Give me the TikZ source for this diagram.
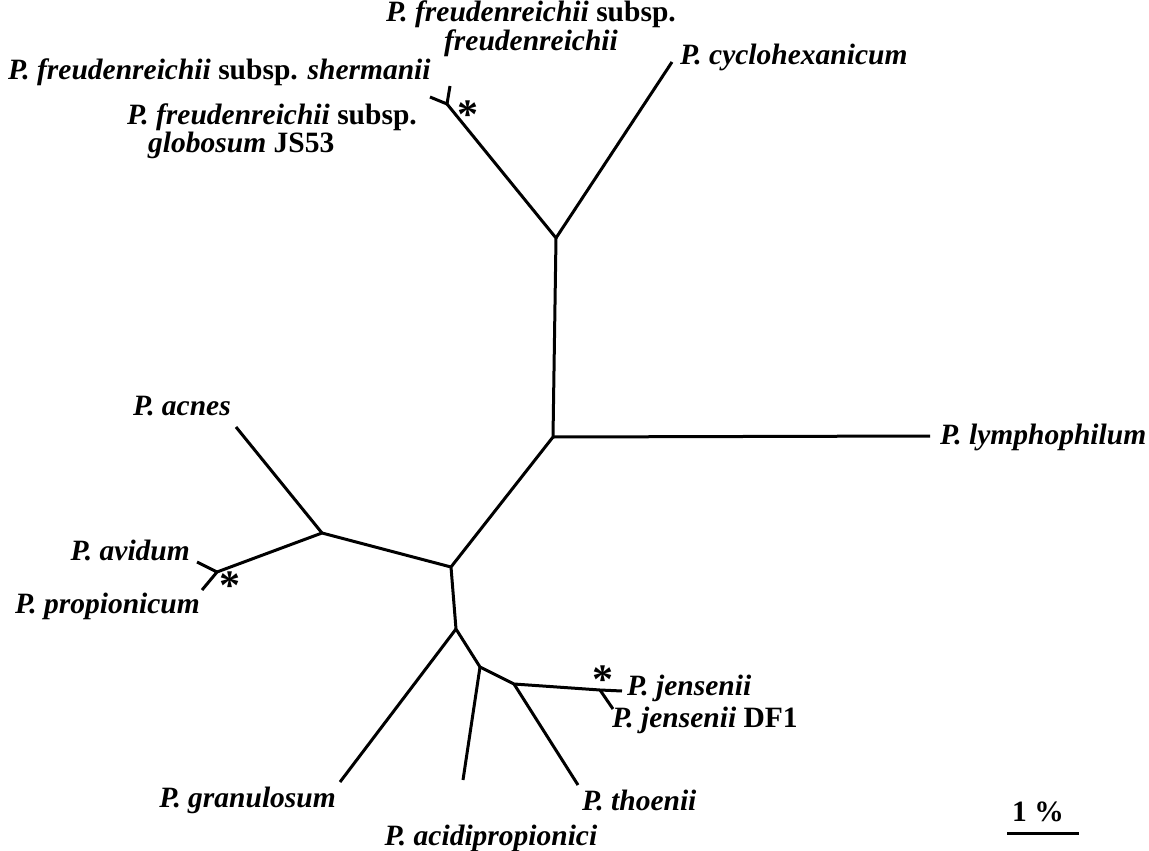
\documentclass[tikz,border=0pt]{standalone}
\usepackage{fontspec}
\setmainfont{Liberation Serif}
\begin{document}
\begin{tikzpicture}[x=1pt,y=-1pt,
  br/.style={line width=3pt},
  lab/.style={inner sep=0pt, font=\bfseries\fontsize{29.5}{26}\selectfont},
  starlab/.style={inner sep=0pt, font=\bfseries\fontsize{42}{42}\selectfont}]
\useasboundingbox (0,0) rectangle (1149,851);
% internal nodes
\coordinate (A) at (556,238);
\coordinate (B) at (553,437);
\coordinate (C) at (451,567);
\coordinate (D) at (322,533);
\coordinate (E) at (217,572);
\coordinate (F) at (456,629);
\coordinate (G) at (480,667);
\coordinate (H) at (514,684);
\coordinate (J) at (600,690);
\coordinate (K) at (447,104);
% leaves
\coordinate (fs) at (430,97);
\coordinate (ff) at (450,86);
\coordinate (cy) at (672,62);
\coordinate (ly) at (930,436);
\coordinate (ac) at (236,427);
\coordinate (av) at (197,562);
\coordinate (pr) at (202,590);
\coordinate (gr) at (340,782);
\coordinate (aci) at (463,780);
\coordinate (th) at (578,785);
\coordinate (je) at (622,691);
\coordinate (df) at (613,709);
% branches
\draw[br] (K) -- (A) -- (B) -- (C) -- (F) -- (G) -- (H) -- (J) -- (je);
\draw[br] (fs) -- (K) -- (ff);
\draw[br] (A) -- (cy);
\draw[br] (B) -- (ly);
\draw[br] (C) -- (D) -- (E);
\draw[br] (D) -- (ac);
\draw[br] (av) -- (E) -- (pr);
\draw[br] (F) -- (gr);
\draw[br] (G) -- (aci);
\draw[br] (H) -- (th);
\draw[br] (J) -- (df);
% labels
\node[lab, anchor=north, align=center] (lff) at (531,1) {\textit{P. freudenreichii} subsp.\\\textit{freudenreichii}};
\node[lab, anchor=west] (lfs) at (8,72) {\textit{P. freudenreichii} subsp. \textit{shermanii}};
\node[lab, anchor=north west, align=left] (lfg) at (127,104) {\textit{P. freudenreichii} subsp.\\\hspace*{21pt}\textit{globosum} JS53};
\node[lab, anchor=west] (lcy) at (680,57) {\textit{P. cyclohexanicum}};
\node[lab, anchor=west] (lly) at (940,437) {\textit{P. lymphophilum}};
\node[lab, anchor=east] (lac) at (231,406) {\textit{P. acnes}};
\node[lab, anchor=east] (lav) at (190,550) {\textit{P. avidum}};
\node[lab, anchor=east] (lpr) at (200,606) {\textit{P. propionicum}};
\node[lab, anchor=east] (lgr) at (336,800) {\textit{P. granulosum}};
\node[lab, anchor=center] (laci) at (491,838) {\textit{P. acidipropionici}};
\node[lab, anchor=west] (lth) at (582,800) {\textit{P. thoenii}};
\node[lab, anchor=west] (lje) at (627,688) {\textit{P. jensenii}};
\node[lab, anchor=west] (ldf) at (612,720) {\textit{P. jensenii} DF1};
% bootstrap stars
\node[starlab, anchor=north] (s1) at (468,101) {*};
\node[starlab, anchor=north] (s2) at (230,572) {*};
\node[starlab, anchor=north] (s3) at (603,666) {*};
% scale bar
\node[lab, anchor=center] (sc) at (1038,812) {1 \%};
\coordinate (sb1) at (1007,833);
\coordinate (sb2) at (1079,833);
\draw[br] (sb1) -- (sb2);
\end{tikzpicture}
\end{document}
